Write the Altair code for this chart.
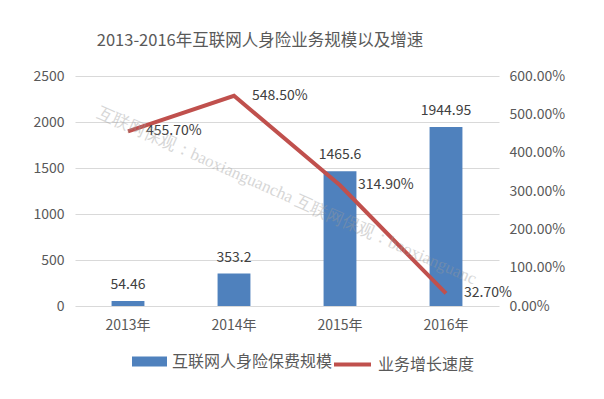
import altair as alt
import pandas as pd

years = ["2013年", "2014年", "2015年", "2016年"]
premium = [54.46, 353.2, 1465.6, 1944.95]
growth = [4.557, 5.485, 3.149, 0.327]
growth_labels = ["455.70%", "548.50%", "314.90%", "32.70%"]
bar_series = "互联网人身险保费规模"
line_series = "业务增长速度"
title_text = "2013-2016年互联网人身险业务规模以及增速"
watermark = "互联网保观：baoxianguancha  互联网保观：baoxianguanc"

df = pd.DataFrame({
    "year": years,
    "premium": premium,
    "growth": growth,
    "glabel": growth_labels,
    "s1": [bar_series] * 4,
    "s2": [line_series] * 4,
})

FONT = "Noto Sans CJK SC"
BLUE = "#4F81BD"
RED = "#C0504D"

xenc = alt.X("year:N", sort=years, title=None,
             scale=alt.Scale(paddingInner=0.69, paddingOuter=0.345),
             axis=alt.Axis(labelAngle=0, ticks=False, domain=False, labelPadding=12,
                           labelFont=FONT, labelFontSize=14, labelColor="#595959"))

yleft = alt.Y("premium:Q", title=None,
              scale=alt.Scale(domain=[0, 2500]),
              axis=alt.Axis(values=[0, 500, 1000, 1500, 2000, 2500], orient="left",
                            format="d", ticks=False, domain=False, labelPadding=11,
                            grid=True, gridColor="#d9d9d9", labelFont=FONT,
                            labelFontSize=14, labelColor="#595959"))

yright = alt.Y("growth:Q", title=None,
               scale=alt.Scale(domain=[0, 6]),
               axis=alt.Axis(values=[0, 1, 2, 3, 4, 5, 6], format=".2%", orient="right",
                             ticks=False, domain=False, grid=False, labelPadding=10,
                             labelFont=FONT, labelFontSize=14, labelColor="#595959"))

base = alt.Chart(df)

bars = base.mark_bar().encode(
    x=xenc,
    y=yleft,
    color=alt.Color("s1:N", scale=alt.Scale(domain=[bar_series], range=[BLUE]),
                    legend=alt.Legend(title=None, orient="none", legendX=57, legendY=268,
                                      symbolType="M-1,-0.286L1,-0.286L1,0.286L-1,0.286Z",
                                      symbolSize=1225, symbolStrokeWidth=0, padding=0,
                                      labelFont=FONT, labelFontSize=16, labelColor="#595959",
                                      labelOffset=5, labelLimit=400)),
)

bar_text = base.mark_text(baseline="bottom", dy=-9, font=FONT, fontSize=14,
                          color="#404040").encode(
    x=xenc,
    y=yleft,
    text=alt.Text("premium:Q"),
)

line = base.mark_line(strokeWidth=4).encode(
    x=xenc,
    y=yright,
    stroke=alt.Stroke("s2:N", scale=alt.Scale(domain=[line_series], range=[RED]),
                      legend=alt.Legend(title=None, orient="none", legendX=257, legendY=268,
                                        symbolType="stroke", symbolSize=1369,
                                        symbolStrokeWidth=4, padding=0,
                                        labelFont=FONT, labelFontSize=16,
                                        labelColor="#595959", labelOffset=5,
                                        labelLimit=400)),
)

line_text = base.mark_text(align="left", baseline="middle", dx=18, font=FONT,
                           fontSize=14, color="#404040").encode(
    x=xenc,
    y=yright,
    text="glabel:N",
)

wm = alt.Chart(pd.DataFrame({"t": [watermark]})).mark_text(
    align="left", baseline="middle", angle=24, font="Liberation Serif",
    fontSize=17, color="#9a9a9a", opacity=0.4,
).encode(x=alt.value(23), y=alt.value(36), text="t:N")

chart = alt.layer(
    alt.layer(bars, bar_text),
    alt.layer(line, line_text),
    wm,
).resolve_scale(y="independent").properties(
    width=424, height=230,
    title=alt.TitleParams(title_text, font=FONT, fontSize=16.5, fontWeight="normal",
                          color="#595959", anchor="middle", dx=-27, offset=20),
    autosize=alt.AutoSizeParams(type="none"),
    padding={"left": 67, "top": 68, "right": 90, "bottom": 75},
).configure_view(stroke=None)

chart.save("out.html", embed_options={"renderer": "svg", "actions": False})
